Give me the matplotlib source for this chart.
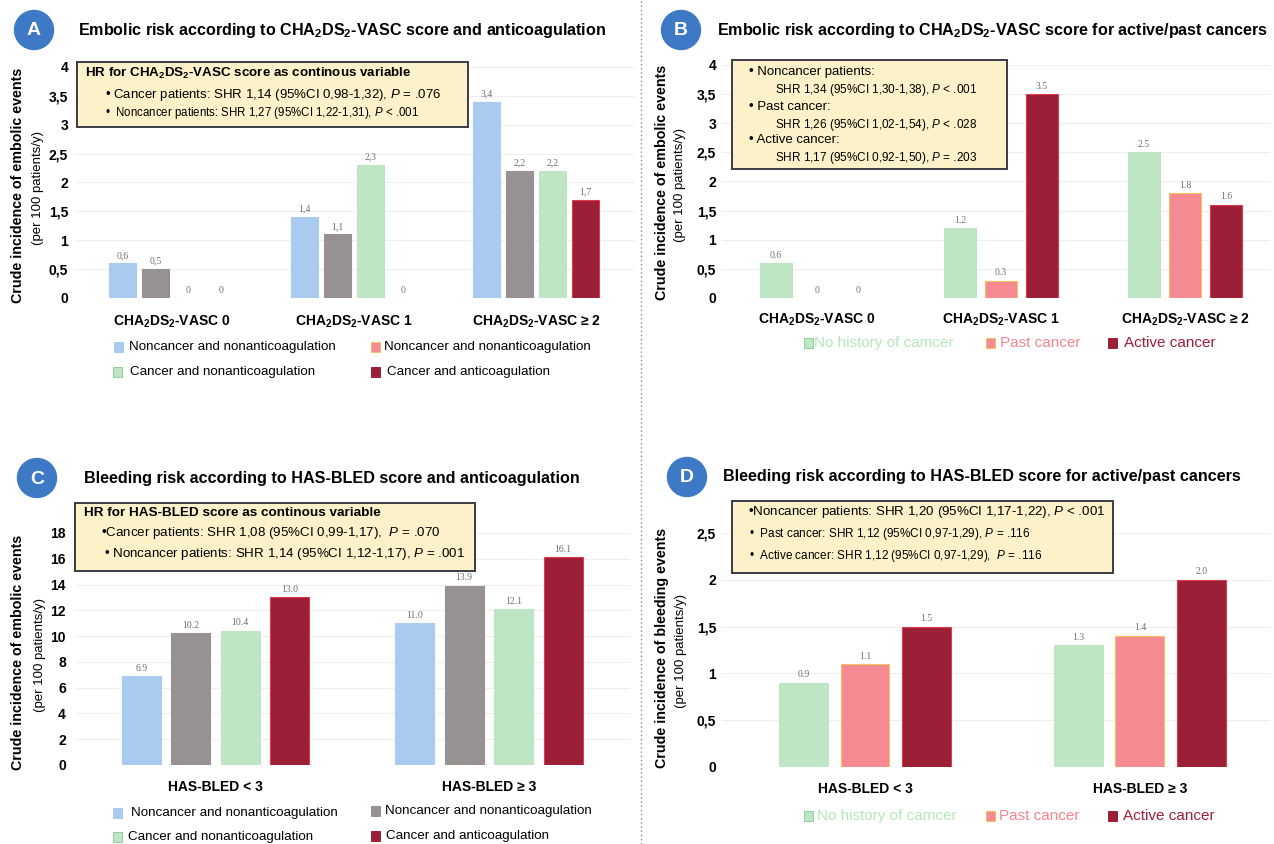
import matplotlib.pyplot as plt
from matplotlib.patches import Circle, Rectangle
from matplotlib.lines import Line2D
from matplotlib.ticker import FuncFormatter

plt.rcParams['font.family'] = ['Liberation Sans', 'DejaVu Sans']
plt.rcParams['mathtext.fontset'] = 'custom'
plt.rcParams['mathtext.rm'] = 'Liberation Sans'
plt.rcParams['mathtext.it'] = 'Liberation Sans:italic'
plt.rcParams['mathtext.bf'] = 'Liberation Sans:bold'
plt.rcParams['mathtext.default'] = 'regular'

CHA = r'CHA$_2$DS$_2$-VASC'

# --- A: embolic risk by CHA2DS2-VASC and anticoagulation ---
a_groups = [CHA + ' 0', CHA + ' 1', CHA + ' ≥ 2']
a_noncancer_noac = [0.6, 1.4, 3.4]
a_noncancer_ac = [0.5, 1.1, 2.2]
a_cancer_noac = [0, 2.3, 2.2]
a_cancer_ac = [0, 0, 1.7]

# --- B: embolic risk for active/past cancers ---
b_groups = [CHA + ' 0', CHA + ' 1', CHA + ' ≥ 2']
b_no_history = [0.6, 1.2, 2.5]
b_past = [0, 0.3, 1.8]
b_active = [0, 3.5, 1.6]

# --- C: bleeding risk by HAS-BLED and anticoagulation ---
c_groups = ['HAS-BLED < 3', 'HAS-BLED ≥ 3']
c_noncancer_noac = [6.9, 11.0]
c_noncancer_ac = [10.2, 13.9]
c_cancer_noac = [10.4, 12.1]
c_cancer_ac = [13.0, 16.1]

# --- D: bleeding risk for active/past cancers ---
d_groups = ['HAS-BLED < 3', 'HAS-BLED ≥ 3']
d_no_history = [0.9, 1.3]
d_past = [1.1, 1.4]
d_active = [1.5, 2.0]

BLUE, GREY, GREEN, PINK, RED = '#a9cbf0', '#989192', '#bfe6c4', '#f58a93', '#9b1f36'
EDGES = {BLUE: BLUE, GREY: GREY, GREEN: GREEN, PINK: '#f3c15e', RED: '#e23a48'}
KEY_EDGES = {BLUE: BLUE, GREY: GREY, GREEN: '#8fcf99', PINK: '#f3c15e', RED: RED}
LABEL_GREY = '#707070'

W, H = 1274, 844
fig = plt.figure(figsize=(W / 100, H / 100), dpi=100)
fig.patch.set_facecolor('white')
PX = fig.dpi_scale_trans


def ftext(x, y, s, **kw):
    # place text using pixel coordinates measured from the top-left corner
    return fig.text(x / 100, (H - y) / 100, s, transform=PX, **kw)


def px_axes(x0, y0, x1, y1):
    return fig.add_axes([x0 / W, 1 - y1 / H, (x1 - x0) / W, (y1 - y0) / H])


def comma(v, pos=None):
    return f'{v:g}'.replace('.', ',')


def badge(x, y, letter):
    fig.add_artist(Circle((x / 100, (H - y) / 100), 0.195, transform=PX,
                          color='#3e79c6', zorder=5))
    ftext(x, y + 1, letter, ha='center', va='center', color='white',
          fontsize=14, fontweight='bold', zorder=6)


def info_box(x0, y0, x1, y1):
    fig.add_artist(Rectangle((x0 / 100, (H - y1) / 100), (x1 - x0) / 100, (y1 - y0) / 100,
                             transform=PX, fc='#fcf1c8', ec='#3b3b46', lw=1.4, zorder=5))


def key(x, y, color, text, tx, size=9.6, tcolor='black'):
    fig.add_artist(Rectangle((x / 100, (H - y - 5) / 100), 0.09, 0.10, transform=PX,
                             fc=color, ec=KEY_EDGES[color], lw=0.7, zorder=5))
    ftext(tx, y, text, va='center', ha='left', fontsize=size, color=tcolor)


def setup_axes(ax, groups, pad_x, pad_y):
    for s in ax.spines.values():
        s.set_visible(False)
    ax.set_xticks(range(len(groups)), groups)
    ax.tick_params(axis='x', length=0, pad=pad_x, labelsize=10)
    ax.tick_params(axis='y', length=0, pad=pad_y, labelsize=10)
    for t in ax.get_xticklabels() + ax.get_yticklabels():
        t.set_fontweight('bold')
    ax.yaxis.grid(True, color='#f2eeee', lw=0.8)
    ax.set_axisbelow(True)


def draw_bars(ax, series, colors, pitch, width, fmt):
    n = len(series)
    for i, (vals, c) in enumerate(zip(series, colors)):
        off = (i - (n - 1) / 2) * pitch
        xs = [g + off for g in range(len(vals))]
        lws = [0.8 if v > 0 else 0 for v in vals]
        ax.bar(xs, vals, width, color=c, edgecolor=EDGES[c], linewidth=lws, zorder=2)
        for x, v in zip(xs, vals):
            ax.annotate(fmt(v), (x, v), xytext=(0, 2.5), textcoords='offset points',
                        ha='center', va='bottom', fontsize=7, color=LABEL_GREY,
                        family='Liberation Serif')


def y_title(x_bold, x_sub, y, bold_text):
    ftext(x_bold, y, bold_text, rotation=90, ha='center', va='center',
          fontsize=10.3, fontweight='bold')
    ftext(x_sub, y + 3, '(per 100 patients/y)', rotation=90, ha='center',
          va='center', fontsize=9.5)


TITLE_SIZE = 11.6

# ---------------- panel A ----------------
axA = px_axes(75, 67, 635, 298)
draw_bars(axA, [a_noncancer_noac, a_noncancer_ac, a_cancer_noac, a_cancer_ac],
          [BLUE, GREY, GREEN, RED], 0.1813, 0.148, comma)
axA.set_xlim(-0.533, 2.544)
axA.set_ylim(0, 4)
axA.set_yticks([0, 0.5, 1, 1.5, 2, 2.5, 3, 3.5, 4])
axA.yaxis.set_major_formatter(FuncFormatter(comma))
setup_axes(axA, a_groups, 11.5, 5)

badge(34, 30, 'A')
ftext(78, 31, 'Embolic risk according to ' + CHA + ' score and anticoagulation',
      va='center', fontsize=TITLE_SIZE, fontweight='bold')
y_title(18, 38, 185, 'Crude incidence of embolic events')
info_box(77, 62, 468, 127)
ftext(85, 73, 'HR for ' + CHA + ' score as continous variable', va='center',
      fontsize=9.6, fontweight='bold', zorder=6)
ftext(105, 95, r'• Cancer patients: SHR 1,14 (95%CI 0,98-1,32), $\mathit{P}$ = .076',
      va='center', fontsize=9.5, zorder=6)
ftext(105, 113, r'•  Noncancer patients: SHR 1,27 (95%CI 1,22-1,31), $\mathit{P}$ < .001',
      va='center', fontsize=8.3, zorder=6)
key(114, 347, BLUE, 'Noncancer and nonanticoagulation', 129)
key(371, 347, PINK, 'Noncancer and nonanticoagulation', 384)
key(113, 372, GREEN, 'Cancer and nonanticoagulation', 130)
key(371, 372, RED, 'Cancer and anticoagulation', 387)

# ---------------- panel B ----------------
axB = px_axes(722, 65, 1270, 298)
draw_bars(axB, [b_no_history, b_past, b_active], [GREEN, PINK, RED],
          0.2228, 0.174, lambda v: f'{v:g}')
axB.set_xlim(-0.516, 2.462)
axB.set_ylim(0, 4)
axB.set_yticks([0, 0.5, 1, 1.5, 2, 2.5, 3, 3.5, 4])
axB.yaxis.set_major_formatter(FuncFormatter(comma))
setup_axes(axB, b_groups, 9.5, 4.3)

badge(681, 30, 'B')
ftext(717, 31, 'Embolic risk according to ' + CHA + ' score for active/past cancers',
      va='center', fontsize=TITLE_SIZE, fontweight='bold')
y_title(662, 680, 182, 'Crude incidence of embolic events')
info_box(732, 60, 1007, 169)
for yy, head, line in [(72, 'Noncancer patients:', r'SHR 1,34 (95%CI 1,30-1,38), $\mathit{P}$ < .001'),
                       (107, 'Past cancer:', r'SHR 1,26 (95%CI 1,02-1,54), $\mathit{P}$ < .028'),
                       (140, 'Active cancer:', r'SHR 1,17 (95%CI 0,92-1,50), $\mathit{P}$ = .203')]:
    ftext(749, yy, '• ' + head, va='center', fontsize=9.5, zorder=6)
    ftext(775, yy + 18, line, va='center', fontsize=8.5, zorder=6)
key(804, 343, GREEN, 'No history of camcer', 814, size=11, tcolor='#b4e8ba')
key(986, 343, PINK, 'Past cancer', 1000, size=11, tcolor='#f4848e')
key(1108, 343, RED, 'Active cancer', 1124, size=11, tcolor=RED)

# ---------------- panel C ----------------
axC = px_axes(75, 513.6, 630, 765)
draw_bars(axC, [c_noncancer_noac, c_noncancer_ac, c_cancer_noac, c_cancer_ac],
          [BLUE, GREY, GREEN, RED], 0.181, 0.1426, lambda v: f'{v:.1f}')
axC.set_xlim(-0.514, 1.516)
axC.set_ylim(0, 19.5)
axC.set_yticks(range(0, 19, 2))
setup_axes(axC, c_groups, 10.5, 6.5)

badge(37, 478, 'C')
ftext(84, 478, 'Bleeding risk according to HAS-BLED score and anticoagulation',
      va='center', fontsize=TITLE_SIZE, fontweight='bold')
y_title(18, 40, 652, 'Crude incidence of embolic events')
info_box(75, 503, 475, 571)
ftext(84, 513, 'HR for HAS-BLED score as continous variable', va='center',
      fontsize=9.7, fontweight='bold', zorder=6)
ftext(101, 533, r'•Cancer patients: SHR 1,08 (95%CI 0,99-1,17),  $\mathit{P}$ = .070',
      va='center', fontsize=9.6, zorder=6)
ftext(104, 554, r'• Noncancer patients: SHR 1,14 (95%CI 1,12-1,17), $\mathit{P}$ = .001',
      va='center', fontsize=9.6, zorder=6)
key(113, 813, BLUE, 'Noncancer and nonanticoagulation', 131)
key(371, 811, GREY, 'Noncancer and nonanticoagulation', 385)
key(113, 837, GREEN, 'Cancer and nonanticoagulation', 128)
key(371, 836, RED, 'Cancer and anticoagulation', 386)

# ---------------- panel D ----------------
axD = px_axes(722, 509.6, 1270, 767)
draw_bars(axD, [d_no_history, d_past, d_active], [GREEN, PINK, RED],
          0.2236, 0.178, lambda v: f'{v:.1f}')
axD.set_xlim(-0.52, 1.473)
axD.set_ylim(0, 2.75)
axD.set_yticks([0, 0.5, 1, 1.5, 2, 2.5])
axD.yaxis.set_major_formatter(FuncFormatter(comma))
setup_axes(axD, d_groups, 11, 4.3)

badge(687, 477, 'D')
ftext(723, 477, 'Bleeding risk according to HAS-BLED score for active/past cancers',
      va='center', fontsize=TITLE_SIZE, fontweight='bold')
y_title(662, 681, 648, 'Crude incidence of bleeding events')
info_box(732, 501, 1113, 573)
ftext(748, 512, r'•Noncancer patients: SHR 1,20 (95%CI 1,17-1,22), $\mathit{P}$ < .001',
      va='center', fontsize=9.6, zorder=6)
ftext(749, 534, r'•  Past cancer: SHR 1,12 (95%CI 0,97-1,29), $\mathit{P}$ = .116',
      va='center', fontsize=8.5, zorder=6)
ftext(749, 556, r'•  Active cancer: SHR 1,12 (95%CI 0,97-1,29),  $\mathit{P}$ = .116',
      va='center', fontsize=8.5, zorder=6)
key(804, 816, GREEN, 'No history of camcer', 817, size=11, tcolor='#b4e8ba')
key(986, 816, PINK, 'Past cancer', 999, size=11, tcolor='#f4848e')
key(1108, 816, RED, 'Active cancer', 1123, size=11, tcolor=RED)

# dotted divider between left and right panels
fig.add_artist(Line2D([6.41, 6.41], [0, H / 100], transform=PX, color='#8a8a8a',
                      lw=1, ls=(0, (1, 2))))

fig.savefig('out.png', dpi=100)
